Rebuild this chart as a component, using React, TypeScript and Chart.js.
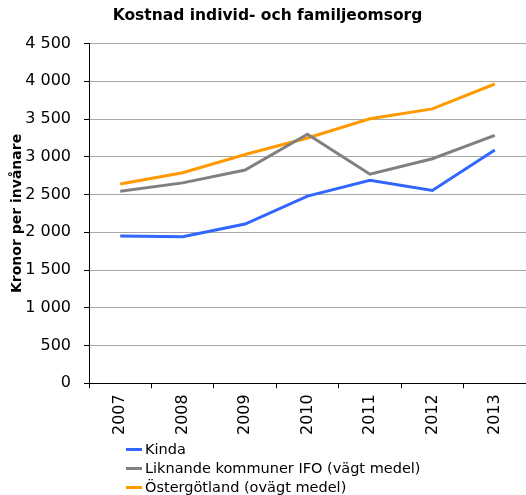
import React, { useEffect, useRef } from "react";
import { Chart, registerables } from "chart.js";

Chart.register(...registerables);

const categories = ["2007", "2008", "2009", "2010", "2011", "2012", "2013"];
const kinda = [1950, 1940, 2110, 2480, 2690, 2555, 3090];
const liknande = [2545, 2655, 2825, 3300, 2770, 2975, 3285];
const ostergotland = [2640, 2790, 3030, 3250, 3505, 3635, 3965];
const seriesNames = [
  "Kinda",
  "Liknande kommuner IFO (vägt medel)",
  "Östergötland (ovägt medel)",
];
const seriesColors = ["#3366ff", "#808080", "#ff9900"];
const titleText = "Kostnad individ- och familjeomsorg";
const yTitle = "Kronor per invånare";

const FONT = "'DejaVu Sans', Verdana, sans-serif";

function fmt(v: number): string {
  const s = String(Math.round(v));
  return s.replace(/\B(?=(\d{3})+(?!\d))/g, " ");
}

export default function App() {
  const ref = useRef<HTMLCanvasElement | null>(null);
  useEffect(() => {
    document.body.style.margin = "0";
    if (!ref.current) return;
    const data = [kinda, liknande, ostergotland];
    const chart = new Chart(ref.current, {
      type: "line",
      data: {
        labels: categories,
        datasets: data.map((d, i) => ({
          label: seriesNames[i],
          data: d,
          borderColor: seriesColors[i],
          backgroundColor: seriesColors[i],
          borderWidth: 3,
          pointRadius: 0,
          tension: 0,
          fill: false,
        })),
      },
      options: {
        animation: false,
        responsive: false,
        devicePixelRatio: 1,
        layout: { padding: { left: 9, right: 0, top: 0, bottom: 54 } },
        plugins: {
          legend: { display: false },
          tooltip: { enabled: false },
          title: {
            display: true,
            text: titleText,
            color: "#000",
            font: { family: FONT, size: 15.5, weight: "bold" },
            padding: { top: 7, bottom: 18 },
          },
        },
        scales: {
          x: {
            offset: true,
            grid: {
              offset: true,
              drawOnChartArea: false,
              drawTicks: true,
              tickLength: 5,
              color: "#000",
            },
            border: { color: "#000", width: 1 },
            ticks: {
              color: "#000",
              font: { family: FONT, size: 16 },
              maxRotation: 90,
              minRotation: 90,
              padding: 6,
              autoSkip: false,
            },
          },
          y: {
            min: 0,
            max: 4500,
            afterFit: (s: any) => {
              s.width = 80;
            },
            grid: {
              color: "#a8a8a8",
              lineWidth: 1,
              drawTicks: true,
              tickLength: 5,
              tickColor: "#000",
            },
            border: { color: "#000", width: 1 },
            ticks: {
              stepSize: 500,
              color: "#000",
              font: { family: FONT, size: 16 },
              padding: 13,
              callback: (v: any) => fmt(Number(v)),
            },
            title: {
              display: true,
              text: yTitle,
              color: "#000",
              font: { family: FONT, size: 14, weight: "bold" },
              padding: { top: 0, bottom: 0 },
            },
          },
        },
      },
    });
    return () => chart.destroy();
  }, []);

  return (
    <div style={{ position: "relative", width: 526, height: 495, background: "#fff" }}>
      <canvas ref={ref} width={526} height={495} style={{ display: "block" }} />
      <div
        style={{
          position: "absolute",
          left: 126,
          top: 440,
          fontFamily: FONT,
          fontSize: 14.5,
          color: "#000",
          lineHeight: "19px",
        }}
      >
        {seriesNames.map((n, i) => (
          <div key={n} style={{ display: "flex", alignItems: "center", whiteSpace: "nowrap" }}>
            <span
              style={{
                display: "inline-block",
                width: 16,
                height: 3,
                background: seriesColors[i],
                marginRight: 3,
              }}
            />
            <span>{n}</span>
          </div>
        ))}
      </div>
    </div>
  );
}
